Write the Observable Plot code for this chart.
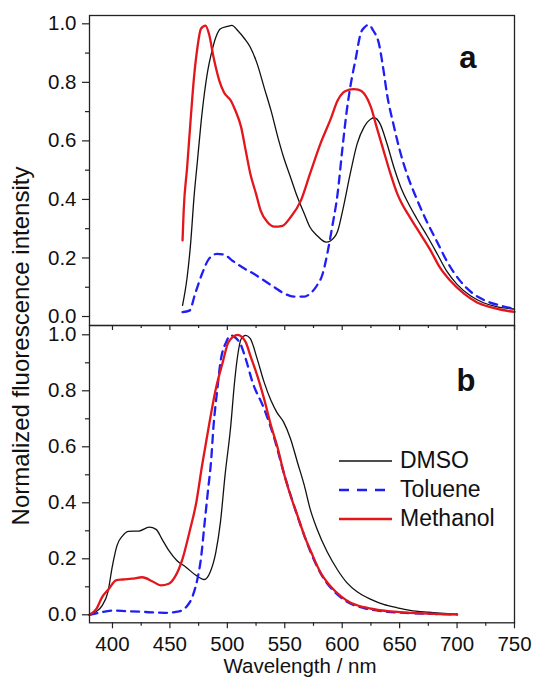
<!DOCTYPE html>
<html><head><meta charset="utf-8">
<script src="https://cdn.jsdelivr.net/npm/d3@7"></script>
<script src="https://cdn.jsdelivr.net/npm/@observablehq/plot@0.6"></script>
<style>
body{margin:0;background:#fff;}
#chart{position:relative;width:533px;height:678px;font-family:"Liberation Sans",Arial,sans-serif;color:#111;overflow:hidden;}
#chart svg{position:absolute;left:0;overflow:visible;background:transparent;}
#ytitle{position:absolute;left:21px;top:346px;transform:translate(-50%,-50%) rotate(-90deg);white-space:nowrap;font-size:24px;}
#legend{position:absolute;left:338px;top:446px;font-size:23px;}
#legend .row{display:flex;align-items:center;height:29px;}
#legend svg{position:static;margin-right:7px;}
</style></head><body><div id="chart"><div id="ytitle">Normalized fluorescence intensity</div><div id="legend"></div></div>
<script>
// ---------- data ----------
const seriesNames = ["DMSO", "Toluene", "Methanol"];

// Panel a
const aWlDMSO = [461,465,468,471,474,477,480,483,486,490,494,500,504,509,515,520,526,532,538,544,549,555,561,567,572,578,586,590,596,601,607,613,619,625,628,633,639,645,651,657,665,674,683,691,700,712,723,735,746,750];
const aIntDMSO = [0.038,0.134,0.248,0.408,0.533,0.658,0.761,0.841,0.897,0.954,0.983,0.991,0.995,0.977,0.949,0.920,0.863,0.783,0.704,0.612,0.544,0.476,0.408,0.351,0.305,0.277,0.254,0.259,0.291,0.373,0.488,0.590,0.647,0.675,0.679,0.658,0.590,0.510,0.442,0.391,0.334,0.275,0.212,0.155,0.110,0.070,0.047,0.033,0.027,0.025];

const aWlToluene = [461,467,472,478,484,491,497,504,513,523,532,541,549,558,567,572,578,583,587,591,596,600,604,607,612,616,620,623,627,632,636,639,645,651,657,664,673,682,691,703,714,726,738,750];
const aIntToluene = [0.015,0.020,0.078,0.146,0.197,0.214,0.212,0.192,0.168,0.146,0.123,0.100,0.080,0.068,0.068,0.078,0.106,0.146,0.214,0.300,0.420,0.567,0.704,0.783,0.886,0.966,0.990,0.997,0.977,0.932,0.840,0.760,0.650,0.555,0.480,0.410,0.330,0.260,0.190,0.120,0.078,0.052,0.037,0.026];

const aWlMethanol = [461,462,465,468,471,474,477,481,484,488,493,497,503,507,512,516,520,525,529,535,541,548,555,564,572,581,590,596,601,606,610,614,619,625,630,636,642,648,652,659,668,677,685,694,706,717,729,746,750];
const aIntMethanol = [0.260,0.362,0.510,0.670,0.818,0.920,0.983,0.994,0.966,0.886,0.806,0.766,0.738,0.704,0.647,0.567,0.488,0.419,0.362,0.322,0.307,0.310,0.339,0.396,0.488,0.590,0.675,0.738,0.766,0.775,0.777,0.775,0.762,0.715,0.647,0.567,0.488,0.419,0.385,0.339,0.282,0.225,0.168,0.123,0.078,0.049,0.032,0.018,0.016];

// Panel b
const bWlDMSO = [380,385,391,396,400,404,409,414,423,432,438,443,449,456,464,472,480,485,490,494,498,503,506,509,512,516,520,526,532,538,543,549,555,561,567,572,578,587,596,604,613,625,636,648,659,675,700];
const bIntDMSO = [0,0.009,0.033,0.081,0.176,0.248,0.283,0.298,0.299,0.313,0.305,0.271,0.230,0.194,0.170,0.143,0.126,0.152,0.224,0.331,0.498,0.676,0.819,0.926,0.985,0.998,0.986,0.914,0.831,0.765,0.724,0.688,0.629,0.545,0.462,0.379,0.307,0.224,0.160,0.115,0.082,0.055,0.037,0.025,0.016,0.009,0.002];

const bWlToluene = [380,388,400,412,429,446,458,464,470,474,477,480,483,486,488,491,494,499,503,507,512,516,522,532,541,549,558,567,575,584,596,607,619,636,659,680,700];
const bIntToluene = [0,0.007,0.015,0.013,0.010,0.007,0.012,0.027,0.069,0.129,0.200,0.319,0.438,0.557,0.676,0.795,0.902,0.974,0.998,0.990,0.962,0.914,0.830,0.736,0.629,0.509,0.390,0.283,0.200,0.129,0.072,0.040,0.024,0.012,0.006,0.003,0.001];

const bWlMethanol = [380,386,391,397,403,409,417,426,435,442,449,455,461,467,473,478,484,490,496,501,509,516,520,526,532,538,544,549,555,561,567,573,581,590,599,607,619,630,642,659,680,700];
const bIntMethanol = [0,0.021,0.063,0.093,0.123,0.126,0.129,0.134,0.119,0.105,0.111,0.140,0.200,0.295,0.402,0.533,0.676,0.807,0.902,0.974,1.000,0.974,0.926,0.855,0.771,0.676,0.593,0.509,0.426,0.355,0.283,0.224,0.152,0.101,0.066,0.044,0.027,0.018,0.012,0.007,0.003,0.001];

// ticks
const xMajor = [400,450,500,550,600,650,700,750];
const xMinor = [425,475,525,575,625,675,725];
const yMajor = [0,0.2,0.4,0.6,0.8,1.0];
const yMinor = [0.1,0.3,0.5,0.7,0.9];

// ---------- styles ----------
const colors = {DMSO: "#111111", Toluene: "#1f1ff5", Methanol: "#e3161c"};
const widths = {DMSO: 1.3, Toluene: 2.3, Methanol: 2.3};
const dashes = {DMSO: null, Toluene: "8,6", Methanol: null};

const zip = (w, v) => w.map((d, i) => ({w: d, v: v[i]}));
const panelA = {DMSO: zip(aWlDMSO, aIntDMSO), Toluene: zip(aWlToluene, aIntToluene), Methanol: zip(aWlMethanol, aIntMethanol)};
const panelB = {DMSO: zip(bWlDMSO, bIntDMSO), Toluene: zip(bWlToluene, bIntToluene), Methanol: zip(bWlMethanol, bIntMethanol)};

const font = '"Liberation Sans", Arial, sans-serif';
const fmt = d3.format(".1f");
const lineMarks = (panel) => seriesNames.map(n => Plot.line(panel[n], {
  x: "w", y: "v", stroke: colors[n], strokeWidth: widths[n], strokeDasharray: dashes[n], curve: "monotone-x"
}));
const yAxes = [
  Plot.axisY(yMajor, {tickSize: 7, text: null, label: null, stroke: "#222", strokeWidth: 1.2}),
  Plot.axisY(yMinor, {tickSize: 4, text: null, label: null, stroke: "#222", strokeWidth: 1.2}),
  Plot.text(yMajor, {y: d => d, text: d => fmt(d), frameAnchor: "left", textAnchor: "end", lineAnchor: "middle", dx: -13, fontSize: 20.5, fill: "#111"})
];

const chart = document.getElementById("chart");

// Panel a
const plotA = Plot.plot({
  width: 533, height: 326,
  marginLeft: 89, marginRight: 19, marginTop: 15, marginBottom: 1,
  x: {domain: [380, 750], axis: null},
  y: {domain: [-0.0307, 1.0284], axis: null},
  style: {fontFamily: font, fontSize: "21px", color: "#111", background: "transparent", overflow: "visible"},
  marks: [
    ...lineMarks(panelA),
    ...yAxes,
    Plot.frame({stroke: "#222", strokeWidth: 1.3}),
    Plot.text(["a"], {text: d => d, frameAnchor: "top-right", dx: -38, dy: 30, fontSize: 31, fontWeight: "bold", fill: "#111"})
  ]
});
plotA.style.top = "0px";
chart.appendChild(plotA);

// Panel b
const plotB = Plot.plot({
  width: 533, height: 353,
  marginLeft: 89, marginRight: 19, marginTop: 0, marginBottom: 55.7,
  x: {domain: [380, 750], axis: null},
  y: {domain: [-0.0286, 1.0332], axis: null},
  style: {fontFamily: font, fontSize: "21px", color: "#111", background: "transparent", overflow: "visible"},
  marks: [
    ...lineMarks(panelB),
    ...yAxes,
    Plot.axisX(xMajor, {tickSize: 6, text: null, label: null, stroke: "#222", strokeWidth: 1.2}),
    Plot.axisX(xMinor, {tickSize: 3.5, text: null, label: null, stroke: "#222", strokeWidth: 1.2}),
    Plot.text(xMajor, {x: d => d, text: d => String(d), frameAnchor: "bottom", lineAnchor: "middle", dy: 21.5, fontSize: 20.5, fill: "#111"}),
    Plot.tickX(xMajor, {x: d => d, insetBottom: 297.3 - 5, stroke: "#222", strokeWidth: 1.2}),
    Plot.tickX(xMinor, {x: d => d, insetBottom: 297.3 - 3, stroke: "#222", strokeWidth: 1.2}),
    Plot.frame({stroke: "#222", strokeWidth: 1.3}),
    Plot.text(["b"], {text: d => d, frameAnchor: "top-right", dx: -39, dy: 43, fontSize: 31, fontWeight: "bold", fill: "#111"}),
    Plot.text(["Wavelength / nm"], {text: d => d, frameAnchor: "bottom", lineAnchor: "middle", dx: -2, dy: 43.5, fontSize: 20.5, fill: "#111"})
  ]
});
plotB.style.top = "325px";
chart.appendChild(plotB);

// Legend
const legend = document.getElementById("legend");
seriesNames.forEach(n => {
  const row = document.createElement("div");
  row.className = "row";
  const dash = dashes[n] ? `stroke-dasharray="10,8"` : "";
  row.innerHTML = `<svg width="55" height="10"><line x1="1" x2="54" y1="5" y2="5" stroke="${colors[n]}" stroke-width="${widths[n]}" ${dash}/></svg><span>${n}</span>`;
  legend.appendChild(row);
});
</script>
</body></html>
